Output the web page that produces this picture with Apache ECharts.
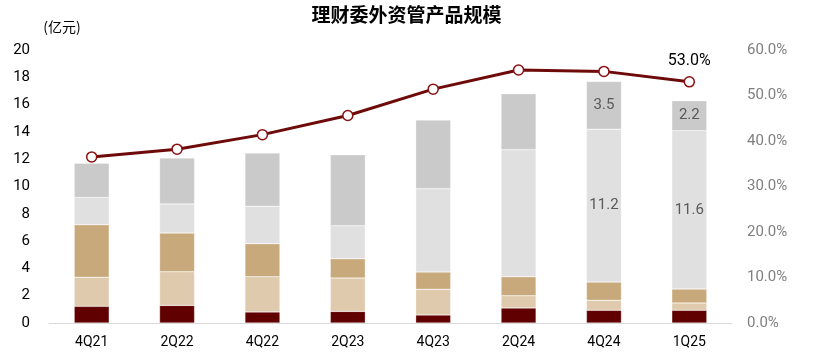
<!DOCTYPE html>
<html>
<head>
<meta charset="utf-8">
<script src="https://cdn.jsdelivr.net/npm/echarts@6/dist/echarts.min.js"></script>
<style>
  html, body { margin: 0; padding: 0; background: #fff; }
  #main { width: 813px; height: 354px; }
</style>
</head>
<body>
<div id="main"></div>
<script>
// 数据
var quarters = ['4Q21', '2Q22', '4Q22', '2Q23', '4Q23', '2Q24', '4Q24', '1Q25'];
var seg1 = [1.22, 1.29, 0.81, 0.85, 0.59, 1.10, 0.93, 0.93];   // 深红
var seg2 = [2.13, 2.47, 2.58, 2.44, 1.88, 0.90, 0.73, 0.54];   // 浅棕
var seg3 = [3.85, 2.83, 2.42, 1.42, 1.27, 1.39, 1.34, 1.02];   // 棕
var seg4 = [2.00, 2.13, 2.74, 2.42, 6.10, 9.31, 11.2, 11.6];   // 浅灰
var seg5 = [2.50, 3.37, 3.90, 5.20, 5.03, 4.10, 3.5, 2.2];     // 灰
var ratio = [36.5, 38.2, 41.4, 45.6, 51.4, 55.6, 55.3, 53.0];  // 占比 %
var leftTicks = [0, 20, 2];
var rightTicks = [0, 60, 10];

// 只在最后两期显示数字
function lastTwoLabel(params) {
  return params.dataIndex >= 6 ? params.value.toFixed(1) : '';
}

var chart = echarts.init(document.getElementById('main'));

function barSeries(name, data, color, showLabel) {
  return {
    name: name,
    type: 'bar',
    stack: 'total',
    barWidth: 35,
    data: data,
    itemStyle: { color: color, borderColor: 'rgba(255,255,255,0.6)', borderWidth: 0.5 },
    label: {
      show: !!showLabel,
      position: 'inside',
      color: '#595959',
      fontSize: 15,
      fontFamily: 'Roboto',
      formatter: lastTwoLabel
    },
    z: 2
  };
}

var option = {
  backgroundColor: '#ffffff',
  animation: false,
  title: {
    text: '理财委外资管产品规模',
    left: 'center',
    top: 0,
    textStyle: { fontSize: 19, fontWeight: 'bold', color: '#000', fontFamily: 'Noto Sans CJK SC' }
  },
  grid: { left: 49, right: 81, top: 50, bottom: 31 },
  xAxis: {
    type: 'category',
    data: quarters,
    axisLine: { lineStyle: { color: '#d9d9d9', width: 1 } },
    axisTick: { show: false },
    axisLabel: { color: '#000', fontSize: 14, fontFamily: 'Roboto', margin: 12 }
  },
  yAxis: [{
    type: 'value',
    name: '(亿元)',
    nameGap: 16,
    nameTextStyle: { color: '#000', fontSize: 14, fontFamily: 'Noto Sans CJK SC', align: 'center', padding: [0, 0, 0, 26] },
    min: leftTicks[0], max: leftTicks[1], interval: leftTicks[2],
    splitLine: { show: false },
    axisLine: { show: false },
    axisTick: { show: false },
    axisLabel: { color: '#000', fontSize: 15, fontFamily: 'Roboto', margin: 19 }
  }, {
    type: 'value',
    min: rightTicks[0], max: rightTicks[1], interval: rightTicks[2],
    splitLine: { show: false },
    axisLine: { show: false },
    axisTick: { show: false },
    axisLabel: {
      color: '#7f7f7f', fontSize: 15, fontFamily: 'Roboto', margin: 15,
      formatter: function (v) { return v.toFixed(1) + '%'; }
    }
  }],
  series: [
    barSeries('s1', seg1, '#600000'),
    barSeries('s2', seg2, '#dfcaad'),
    barSeries('s3', seg3, '#c8a97c'),
    barSeries('s4', seg4, '#e0e0e0', true),
    barSeries('s5', seg5, '#cacaca', true),
    {
      name: 'ratio',
      type: 'line',
      yAxisIndex: 1,
      data: ratio,
      symbol: 'circle',
      symbolSize: 10,
      lineStyle: { color: '#6e0a0a', width: 3 },
      itemStyle: { color: '#ffffff', borderColor: '#8b1010', borderWidth: 1.5 },
      label: {
        show: true,
        position: 'top',
        distance: 7,
        color: '#000',
        fontSize: 16,
        fontFamily: 'Roboto',
        formatter: function (p) { return p.dataIndex === ratio.length - 1 ? p.value.toFixed(1) + '%' : ''; }
      },
      z: 5
    }
  ]
};

chart.setOption(option);
</script>
</body>
</html>
